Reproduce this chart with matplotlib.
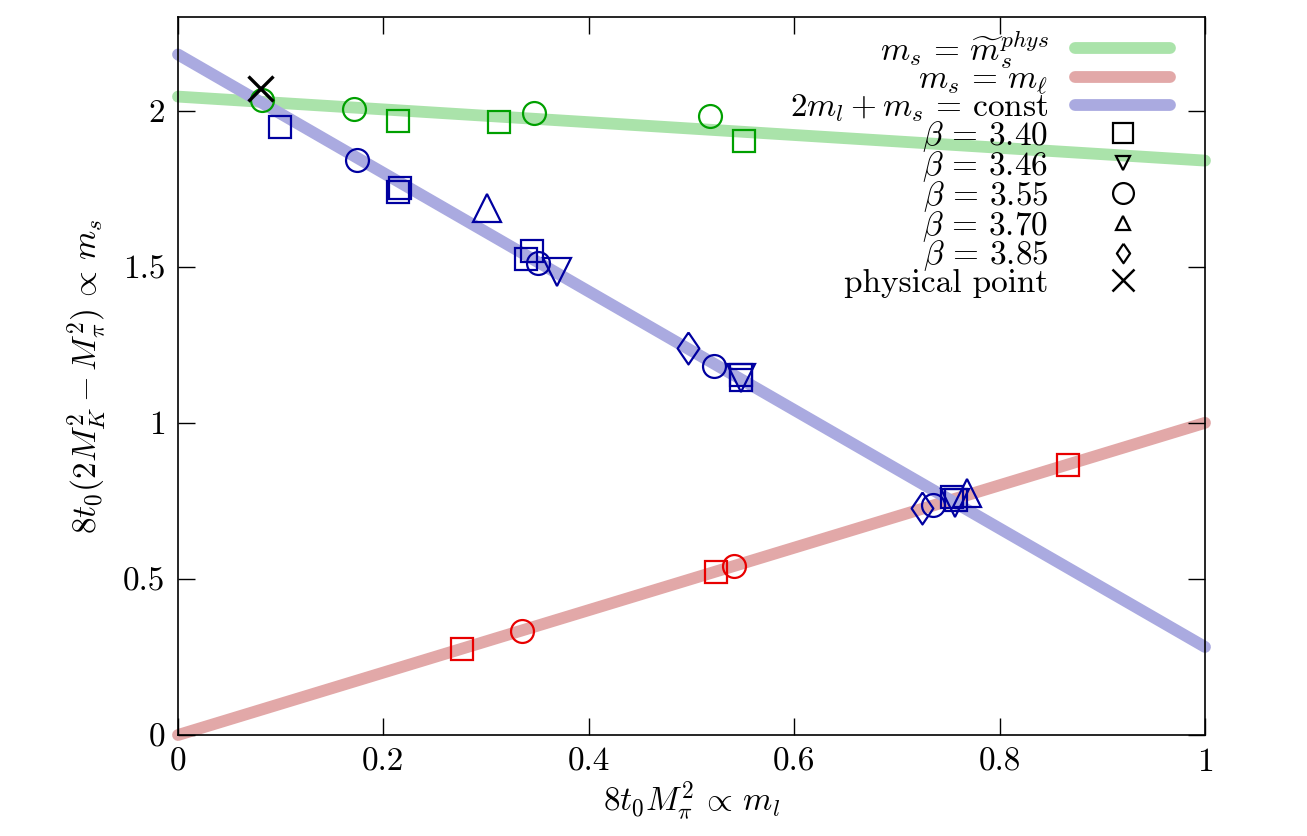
import matplotlib
matplotlib.use("Agg")
import matplotlib.pyplot as plt
from matplotlib.lines import Line2D
from matplotlib.ticker import FormatStrFormatter

plt.rcParams['mathtext.fontset'] = 'cm'
plt.rcParams['font.family'] = 'serif'
plt.rcParams['font.serif'] = ['cmr10', 'DejaVu Serif']
plt.rcParams['axes.unicode_minus'] = False
plt.rcParams['axes.formatter.use_mathtext'] = True

# fitted lines (x from 0 to 1)
line_x = [0.0, 1.0]
green_line_y = [2.045, 1.84]
red_line_y = [0.0, 1.0]
blue_line_y = [2.18, 0.282]

# green: m_s = phys
green_sq_x = [0.214, 0.313, 0.551]
green_sq_y = [1.968, 1.965, 1.904]
green_ci_x = [0.082, 0.171, 0.347, 0.518]
green_ci_y = [2.035, 2.006, 1.994, 1.984]

# blue: 2m_l + m_s = const
blue_sq_x = [0.099, 0.216, 0.214, 0.345, 0.339, 0.548, 0.548, 0.754, 0.758]
blue_sq_y = [1.949, 1.753, 1.740, 1.551, 1.526, 1.152, 1.138, 0.763, 0.753]
blue_td_x = [0.369, 0.548, 0.757]
blue_td_y = [1.484, 1.145, 0.744]
blue_ci_x = [0.174, 0.351, 0.522, 0.735]
blue_ci_y = [1.843, 1.513, 1.183, 0.737]
blue_tu_x = [0.301, 0.768]
blue_tu_y = [1.689, 0.776]
blue_di_x = [0.497, 0.724]
blue_di_y = [1.240, 0.728]

# red: m_s = m_l
red_sq_x = [0.277, 0.524, 0.867]
red_sq_y = [0.276, 0.522, 0.865]
red_ci_x = [0.335, 0.541]
red_ci_y = [0.333, 0.542]

phys_x = [0.080]
phys_y = [2.074]

line_labels = [r'$m_s \,=\, \widetilde{m}_s^{phys}$', r'$m_s \,=\, m_\ell$',
               r'$2m_l + m_s \,=\, \mathrm{const}$']
beta_labels = [r'$\beta \,=\, 3.40$', r'$\beta \,=\, 3.46$', r'$\beta \,=\, 3.55$',
               r'$\beta \,=\, 3.70$', r'$\beta \,=\, 3.85$']
phys_label = 'physical point'

xticks = [0, 0.2, 0.4, 0.6, 0.8, 1]
yticks = [0, 0.5, 1, 1.5, 2]

c_gl, c_rl, c_bl = '#aae3aa', '#e2a8a8', '#aaaae0'
c_g, c_b, c_r = '#00a000', '#0000a0', '#e80000'

fig = plt.figure(figsize=(13.07, 8.36), dpi=100)
ax = fig.add_axes([178/1307, 1 - 735/836, 1027/1307, 718/836])

lw = 8.5
for y, c in [(green_line_y, c_gl), (red_line_y, c_rl), (blue_line_y, c_bl)]:
    ax.plot(line_x, y, color=c, lw=lw, solid_capstyle='round', clip_on=False, zorder=1)

diamond = [(0, 1), (0.68, 0), (0, -1), (-0.68, 0), (0, 1)]
mk = dict(ls='none', mfc='none', mew=1.6, zorder=3)
sq = dict(marker='s', ms=16.5)
ci = dict(marker='o', ms=16.5)
tu = dict(marker='^', ms=20)
td = dict(marker='v', ms=20)
di = dict(marker=diamond, ms=23)

ax.plot(green_sq_x, green_sq_y, color=c_g, **sq, **mk)
ax.plot(green_ci_x, green_ci_y, color=c_g, **ci, **mk)
ax.plot(blue_sq_x, blue_sq_y, color=c_b, **sq, **mk)
ax.plot(blue_td_x, blue_td_y, color=c_b, **td, **mk)
ax.plot(blue_ci_x, blue_ci_y, color=c_b, **ci, **mk)
ax.plot(blue_tu_x, blue_tu_y, color=c_b, **tu, **mk)
ax.plot(blue_di_x, blue_di_y, color=c_b, **di, **mk)
ax.plot(red_sq_x, red_sq_y, color=c_r, **sq, **mk)
ax.plot(red_ci_x, red_ci_y, color=c_r, **ci, **mk)
ax.plot(phys_x, phys_y, ls='none', marker='x', ms=18, mew=2.4, color='black', zorder=4)

ax.set_xlim(0, 1)
ax.set_ylim(0, 2.3)
ax.set_xticks(xticks)
ax.set_yticks(yticks)
ax.xaxis.set_major_formatter(FormatStrFormatter('%g'))
ax.yaxis.set_major_formatter(FormatStrFormatter('%g'))
ax.tick_params(direction='in', length=12, width=1, top=True, right=True,
               labelsize=24, pad=9)
for s in ax.spines.values():
    s.set_linewidth(1.2)

ax.set_xlabel(r'$8t_0M_\pi^2 \,\propto\, m_l$', fontsize=24, labelpad=2)
ax.set_ylabel(r'$8t_0(2M_K^2 - M_\pi^2) \,\propto\, m_s$', fontsize=24, labelpad=10)

# legend
handles = [Line2D([], [], color=c, lw=lw, solid_capstyle='round') for c in (c_gl, c_rl, c_bl)]
leg_mk = [('s', 15), ('v', 10), ('o', 15), ('^', 10), (diamond, 14)]
for m, s in leg_mk:
    handles.append(Line2D([], [], ls='none', marker=m, ms=s, mfc='none', mec='black', mew=1.6))
handles.append(Line2D([], [], ls='none', marker='x', ms=16, mec='black', mew=1.8))
leg = ax.legend(handles, line_labels + beta_labels + [phys_label], loc='upper right',
                bbox_to_anchor=(0.966, 0.985), frameon=False, markerfirst=False,
                fontsize=24, handlelength=2.85, handletextpad=0.8, labelspacing=-0.15,
                borderaxespad=0.0, borderpad=0.0)
for col in leg._legend_handle_box.get_children():
    col.align = 'right'

fig.savefig('out.png', dpi=100)
